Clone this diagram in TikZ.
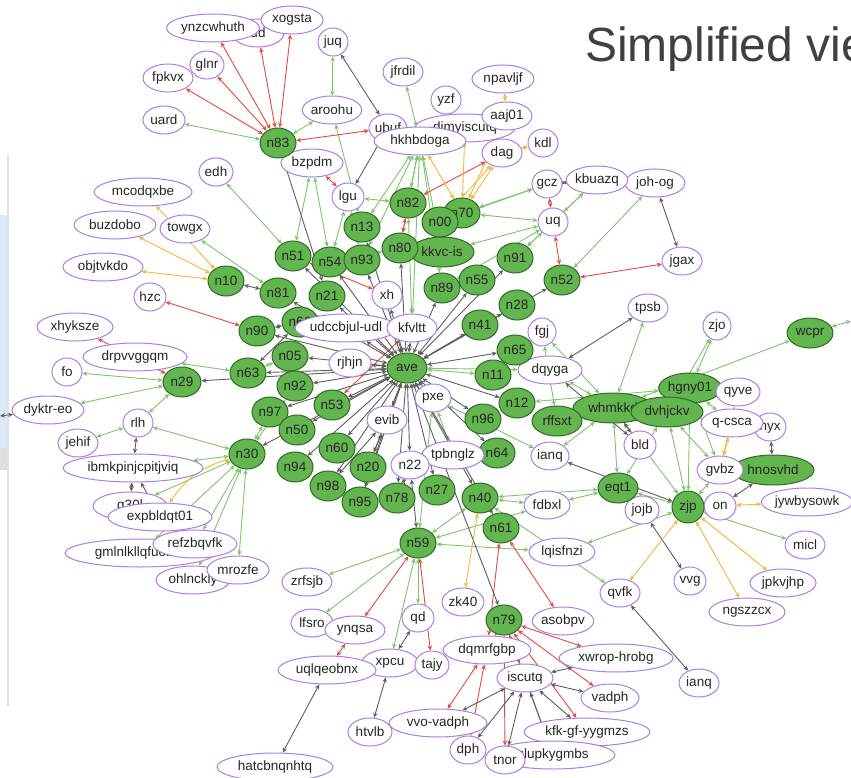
\documentclass[tikz,border=0pt]{standalone}
\usepackage{fontspec}
\setmainfont{Liberation Sans}
\usetikzlibrary{shapes.geometric,arrows.meta}
\pgfdeclarelayer{bg}
\pgfsetlayers{bg,main}
\definecolor{gfill}{HTML}{62B54F}
\definecolor{gdraw}{HTML}{2F6B24}
\definecolor{pdraw}{HTML}{A97FE0}
\definecolor{ceg}{HTML}{7DC56B}
\definecolor{cer}{HTML}{E5483F}
\definecolor{cek}{HTML}{5E5E5E}
\definecolor{ceo}{HTML}{F2B63A}
\definecolor{ttl}{HTML}{404040}
\definecolor{winblue}{HTML}{DCEAF8}
\newcommand\wnode[5]{\node[wn,minimum width=#4pt] (#1) at (#2,#3) {#5};}
\newcommand\gnode[5]{\node[gn,minimum width=#4pt] (#1) at (#2,#3) {#5};}
\begin{document}
\begin{tikzpicture}[x=1pt,y=-1pt,
 base/.style={ellipse,inner sep=0pt,minimum height=28pt,font=\fontsize{13.5}{15}\selectfont,text=black!85},
 wn/.style={base,draw=pdraw,line width=1pt,fill=white},
 gn/.style={base,draw=gdraw,line width=1pt,fill=gfill,minimum height=30pt},
 ed/.style={line width=0.9pt,{Stealth[length=5pt,width=4.5pt]}-{Stealth[length=5pt,width=4.5pt]}},
 ge/.style={ed,draw=ceg},
 re/.style={ed,draw=cer},
 ke/.style={ed,draw=cek},
 oe/.style={ed,draw=ceo}]
\useasboundingbox (0,0) rectangle (851,778);
% title
\node[anchor=base west,text=ttl,font=\fontsize{48}{56}\selectfont,inner sep=0pt] (title) at (585,62) {Simplified vie};
% ---------- white nodes ----------
\wnode{hidd}{258}{33}{52}{ud}
\wnode{ynz}{213}{28}{93}{ynzcwhuth}
\wnode{xog}{292}{20}{62}{xogsta}
\wnode{glnr}{207}{65}{34}{glnr}
\wnode{fpkvx}{168}{78}{50}{fpkvx}
\wnode{uard}{164}{120}{42}{uard}
\wnode{edh}{216}{172}{34}{edh}
\wnode{mcod}{143}{192}{98}{mcodqxbe}
\wnode{juq}{333}{42}{30}{juq}
\wnode{jfrdil}{403}{72}{40}{jfrdil}
\wnode{npavljf}{503}{79}{62}{npavljf}
\wnode{yzf}{446}{100}{30}{yzf}
\wnode{aroohu}{332}{110}{58}{aroohu}
\wnode{dimy}{465}{128}{100}{dimyiscutq}
\wnode{aaj01}{507}{116}{50}{aaj01}
\wnode{ubuf}{388}{128}{38}{ubuf}
\wnode{hkhb}{420}{141}{92}{hkhbdoga}
\wnode{kdl}{543}{143}{30}{kdl}
\wnode{dag}{502}{153}{40}{dag}
\wnode{bzpdm}{312}{163}{62}{bzpdm}
\wnode{gcz}{547}{184}{30}{gcz}
\wnode{johog}{655}{183}{60}{joh-og}
\wnode{kbuazq}{597}{180}{56}{kbuazq}
\wnode{lgu}{348}{197}{32}{lgu}
\wnode{uq}{553}{222}{30}{uq}
\wnode{buzdobo}{115}{225}{82}{buzdobo}
\wnode{towgx}{185}{229}{48}{towgx}
\wnode{objtvkdo}{103}{267}{80}{objtvkdo}
\wnode{hzc}{150}{297}{32}{hzc}
\wnode{xh}{387}{295}{30}{xh}
\wnode{jgax}{682}{261}{40}{jgax}
\wnode{xhyksze}{75}{327}{76}{xhyksze}
\gnode{n66}{300}{322}{36}{n66}
\wnode{udcc}{346}{328}{102}{udccbjul-udl}
\wnode{kfvltt}{412}{328}{50}{kfvltt}
\wnode{fgj}{542}{332}{28}{fgj}
\wnode{tpsb}{648}{308}{40}{tpsb}
\wnode{zjo}{717}{326}{28}{zjo}
\wnode{drpv}{135}{357}{104}{drpvvggqm}
\wnode{fo}{67}{372}{30}{fo}
\wnode{rjhjn}{350}{363}{42}{rjhjn}
\wnode{dqyga}{550}{370}{64}{dqyga}
\wnode{pxe}{433}{398}{36}{pxe}
\wnode{dyktr}{48}{410}{72}{dyktr-eo}
\wnode{rlh}{138}{423}{30}{rlh}
\wnode{evib}{387}{420}{40}{evib}
\wnode{kyx}{770}{427}{32}{hyx}
\wnode{jehif}{78}{443}{40}{jehif}
\wnode{bld}{640}{445}{32}{bld}
\gnode{n64}{497}{453}{36}{n64}
\wnode{tpbnglz}{453}{455}{62}{tpbnglz}
\wnode{ianq}{550}{456}{38}{ianq}
\wnode{n22}{410}{465}{38}{n22}
\wnode{ibmk}{133}{468}{140}{ibmkpinjcpitjviq}
\gnode{hnosvhd}{773}{470}{82}{hnosvhd}
\wnode{gvbz}{720}{470}{46}{gvbz}
\wnode{fdbxl}{547}{505}{46}{fdbxl}
\wnode{jywb}{807}{502}{90}{jywbysowk}
\wnode{jojb}{642}{510}{34}{jojb}
\wnode{on}{720}{506}{32}{on}
\wnode{g30l}{130}{506}{74}{g30l\hspace{34pt}}
\wnode{expb}{160}{517}{104}{expbldqt01}
\wnode{lqisfnzi}{562}{552}{66}{lqisfnzi}
\wnode{micl}{805}{545}{40}{micl}
\wnode{gmln}{140}{553}{150}{gmlnlkllqfuobdt}
\wnode{refz}{195}{544}{84}{refzbqvfk}
\wnode{ohln}{193}{580}{74}{ohlnckly}
\wnode{mrozfe}{238}{570}{62}{mrozfe}
\wnode{vvg}{690}{581}{32}{vvg}
\wnode{jpkvjhp}{783}{583}{66}{jpkvjhp}
\wnode{zrfsjb}{307}{582}{50}{zrfsjb}
\wnode{qvfk}{620}{593}{40}{qvfk}
\wnode{zk40}{463}{602}{42}{zk40}
\wnode{ngszzcx}{747}{612}{76}{ngszzcx}
\wnode{qd}{418}{618}{32}{qd}
\wnode{lfsro}{312}{623}{42}{lfsro}
\wnode{asobpv}{563}{621}{60}{asobpv}
\wnode{ynqsa}{355}{630}{60}{ynqsa}
\wnode{dqmr}{487}{650}{88}{dqmrfgbp}
\wnode{xwrop}{616}{658}{114}{xwrop-hrobg}
\wnode{xpcu}{390}{663}{56}{xpcu}
\wnode{uqlq}{327}{670}{98}{uqlqeobnx}
\wnode{tajy}{432}{665}{34}{tajy}
\wnode{iscutq}{525}{678}{56}{iscutq}
\wnode{ianqb}{699}{683}{40}{ianq}
\wnode{vadph}{610}{698}{58}{vadph}
\wnode{vvo}{438}{723}{98}{vvo-vadph}
\wnode{htvlb}{370}{732}{44}{htvlb}
\wnode{kfk}{587}{732}{126}{kfk-gf-yygmzs}
\wnode{dph}{468}{750}{36}{dph}
\wnode{slup}{553}{755}{124}{slupkygmbs}
\wnode{tnor}{505}{760}{40}{tnor}
\wnode{hatc}{275}{767}{116}{hatcbnqnhtq}
% ---------- green nodes ----------
\gnode{n83}{278}{143}{36}{n83}
\gnode{n82}{408}{203}{36}{n82}
\gnode{n70}{462}{213}{36}{n70}
\gnode{n00}{440}{222}{36}{n00}
\gnode{n13}{362}{227}{36}{n13}
\gnode{kkvc}{442}{252}{64}{kkvc-is}
\gnode{n80}{400}{248}{36}{n80}
\gnode{n51}{293}{256}{36}{n51}
\gnode{n54}{330}{262}{36}{n54}
\gnode{n93}{362}{260}{36}{n93}
\gnode{n91}{515}{258}{36}{n91}
\gnode{n52}{562}{280}{36}{n52}
\gnode{n10}{226}{281}{36}{n10}
\gnode{n55}{477}{280}{36}{n55}
\gnode{n89}{442}{288}{36}{n89}
\gnode{n81}{278}{293}{36}{n81}
\gnode{n21}{327}{296}{36}{n21}
\gnode{n28}{517}{305}{36}{n28}
\gnode{n41}{480}{325}{36}{n41}
\gnode{n90}{257}{331}{36}{n90}
\gnode{n65}{515}{350}{36}{n65}
\gnode{n05}{290}{356}{36}{n05}
\gnode{ave}{407}{368}{40}{ave}
\gnode{n63}{248}{373}{36}{n63}
\gnode{n11}{493}{375}{36}{n11}
\gnode{n29}{182}{382}{38}{n29}
\gnode{n92}{295}{386}{36}{n92}
\gnode{hgny}{690}{388}{62}{hgny01}
\wnode{qyve}{738}{392}{44}{qyve}
\wnode{qcsca}{732}{423}{62}{q-csca}
\gnode{whmk}{613}{408}{80}{whmkkd\hspace{6pt}}
\gnode{dvhj}{667}{412}{72}{dvhjckv}
\gnode{n53}{332}{405}{36}{n53}
\gnode{n12}{517}{403}{36}{n12}
\gnode{n97}{270}{412}{36}{n97}
\gnode{rffsxt}{557}{421}{50}{rffsxt}
\gnode{n96}{483}{419}{36}{n96}
\gnode{n50}{297}{430}{36}{n50}
\gnode{n60}{337}{448}{36}{n60}
\gnode{n30}{247}{454}{36}{n30}
\gnode{n94}{295}{467}{36}{n94}
\gnode{n20}{368}{467}{36}{n20}
\gnode{n98}{328}{486}{36}{n98}
\gnode{eqt1}{618}{488}{40}{eqt1}
\gnode{n40}{480}{498}{36}{n40}
\gnode{n78}{397}{498}{36}{n78}
\gnode{n27}{437}{490}{36}{n27}
\gnode{n95}{360}{502}{36}{n95}
\node[gn,minimum width=32pt,minimum height=32pt] (zjp) at (688,507) {zjp};
\gnode{n61}{501}{528}{36}{n61}
\gnode{n59}{418}{543}{36}{n59}
\gnode{n79}{504}{620}{36}{n79}
\gnode{wcpr}{810}{333}{46}{wcpr}
\coordinate (lw) at (0,416);
\coordinate (rw) at (851,321);
% ---------- background: window bits and edges ----------
\begin{pgfonlayer}{bg}
\fill[winblue] (0,215) rectangle (7,470);
\fill[gray!25] (0,448) rectangle (7,470);
\fill[gray!22] (7,155) rectangle (9,707);
\foreach \a/\b in {n83/uard,n83/aroohu,aroohu/juq,aroohu/n13,jfrdil/hkhb,bzpdm/n51,bzpdm/n54,edh/n51,towgx/n81,
 hkhb/n80,hkhb/n13,hkhb/n93,hkhb/kkvc,hkhb/n89,hkhb/n82,lgu/n82,lgu/n54,lgu/n93,n70/gcz,n70/uq,kbuazq/uq,n00/gcz,
 kkvc/uq,n89/uq,n91/uq,johog/n52,kbuazq/n91,drpv/n63,fo/n29,n29/dyktr,n29/rlh,rlh/jehif,rlh/n30,ibmk/n30,
 n30/g30l,n30/refz,n30/gmln,n30/mrozfe,n30/ohln,n30/n97,n30/n92,n63/n05,ave/n11,ave/dqyga,fgj/whmk,tpsb/whmk,
 zjo/hgny,zjo/dvhj,wcpr/whmk,dqyga/whmk,rffsxt/whmk,rffsxt/dvhj,n12/hgny,whmk/zjp,dvhj/zjp,hgny/zjp,dvhj/eqt1,
 whmk/eqt1,hgny/gvbz,dvhj/gvbz,zjp/eqt1,zjp/micl,zjp/lqisfnzi,zjp/gvbz,eqt1/fdbxl,eqt1/n40,fdbxl/n40,ianq/whmk,
 pxe/tpbnglz,pxe/ianq,pxe/n59,n59/zrfsjb,n59/lfsro,n59/xpcu,n59/qd,n59/fdbxl,n59/lqisfnzi,n59/n40,n40/qvfk,
 n80/n54,kfvltt/hkhb,kfvltt/n82,rw/wcpr,fgj/rffsxt,hgny/qcsca}
 \draw[ge] (\a) -- (\b);
\foreach \a/\b in {n83/ynz,n83/hidd,n83/xog,n83/glnr,n83/fpkvx,n83/ubuf,dag/n82,bzpdm/lgu,n80/n82,uq/gcz,uq/n52,
 n52/jgax,hzc/n90,xhyksze/n29,n51/xh,kfvltt/n53,n59/tajy,n61/dqmr,n61/asobpv,n59/ynqsa,ynqsa/uqlq,n79/dqmr,
 n79/iscutq,n79/xwrop,n79/vadph,n79/kfk,n79/slup,n79/tnor,dqmr/vvo,dqmr/dph}
 \draw[re] (\a) -- (\b);
\foreach \a/\b in {juq/ubuf,ubuf/lgu,kbuazq/gcz,johog/jgax,n83/n21,n81/n10,n66/n90,tpsb/dqyga,dqyga/bld,zjp/ianq,
 hnosvhd/kyx,hnosvhd/on,jojb/vvg,qvfk/ianqb,qd/xpcu,xpcu/htvlb,uqlq/hatc,iscutq/vvo,iscutq/dph,iscutq/tnor,
 iscutq/kfk,iscutq/vadph,iscutq/xwrop,iscutq/slup,ibmk/rlh,expb/ibmk,g30l/ibmk,evib/n98,evib/n20,evib/n95,
 n22/n59,n22/n78,whmk/bld,lw/dyktr,n66/n63}
 \draw[ke] (\a) -- (\b);
\foreach \b in {n05,n92,n53,n50,n60,n94,n98,n20,n95,n78,n22,n27,n40,n96,n65,n41,n28,n55,n89,n91,n52,n21,n54,n93,
 n13,n80,n51,n81,n63,n29,n30,n79,n61,n64,evib,pxe,rjhjn,kfvltt,xh,n90,n12,n97,udcc}
 \draw[ke] (ave) -- (\b);
\foreach \a/\b in {n10/mcod,n10/buzdobo,n10/objtvkdo,aaj01/npavljf,dag/kdl,dimy/n70,dag/n70,aaj01/n70,dag/n00,
 hkhb/n70,n40/zk40,gvbz/qcsca,gvbz/qyve,on/jywb,zjp/ngszzcx,zjp/jpkvjhp,zjp/qvfk}
 \draw[oe] (\a) -- (\b);
\draw[oe] (expb) to[bend left=20] (n30);
\end{pgfonlayer}
\end{tikzpicture}
\end{document}
